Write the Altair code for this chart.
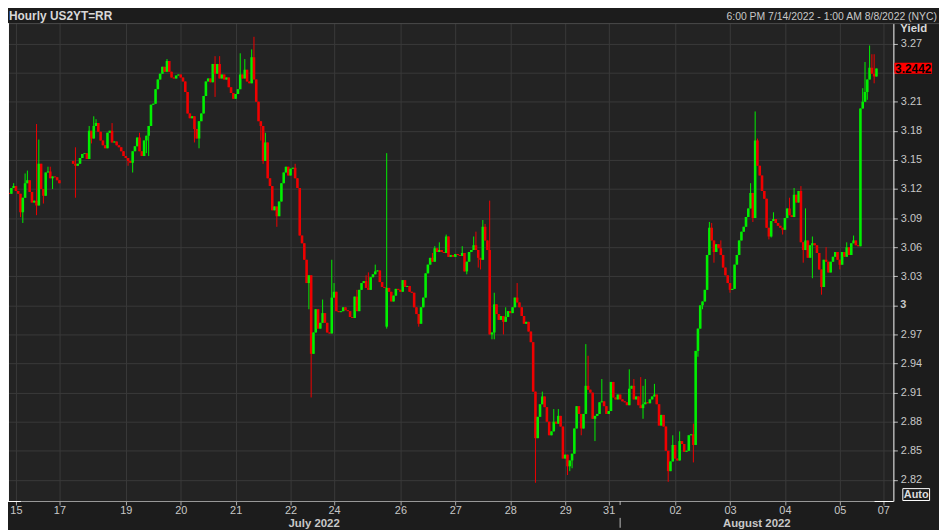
import altair as alt
import pandas as pd

# ---------------- data (hourly US 2Y yield candles, index = trading hour) ----------------
close = [
    3.127, 3.133, 3.116, 3.115, 3.121, 3.123, 3.118, 3.115, 3.096, 3.111,
    3.126, 3.129, 3.117, 3.106, 3.108, 3.103, 3.146, 3.120, 3.113, 3.137,
    3.138, 3.131, 3.133, 3.132, 3.129, 3.126, None, None, None, None,
    None, 3.146, 3.144, 3.146, 3.152, 3.156, 3.157, 3.151, 3.180, 3.172,
    3.185, 3.188, 3.179, 3.170, 3.165, 3.162, 3.178, 3.180, 3.168, 3.169,
    3.165, 3.163, 3.159, 3.154, 3.152, 3.149, 3.147, 3.159, 3.164, 3.173,
    3.159, 3.154, 3.170, 3.175, 3.185, 3.207, 3.208, 3.223, 3.233, 3.239,
    3.246, 3.241, 3.252, 3.241, 3.235, 3.234, 3.237, 3.238, 3.235, 3.231,
    3.220, 3.198, 3.193, 3.195, 3.182, 3.172, 3.190, 3.198, 3.216, 3.231,
    3.234, 3.230, 3.249, 3.239, 3.249, 3.234, 3.238, 3.233, 3.235, 3.225,
    3.219, 3.213, 3.218, 3.223, 3.238, 3.234, 3.243, 3.231, 3.229, 3.256,
    3.233, 3.210, 3.190, 3.185, 3.149, 3.168, 3.131, 3.123, 3.098, 3.102,
    3.092, 3.107, 3.126, 3.137, 3.143, 3.134, 3.141, 3.142, 3.131, 3.121,
    3.072, 3.064, 3.047, 3.023, 3.031, 2.950, 2.972, 2.996, 2.976, 2.982,
    2.992, 2.982, 2.972, 2.971, 3.008, 3.014, 2.994, 2.993, 2.994, 2.998,
    2.995, 2.994, 2.988, 2.987, 3.009, 2.994, 3.016, 3.023, 3.025, 3.018,
    3.016, 3.029, 3.032, 3.035, 3.036, 3.024, 3.019, 3.018, 3.018, 3.014,
    3.004, 3.010, 3.017, 3.016, 3.014, 3.026, 3.019, 3.020, 3.014, 3.013,
    2.998, 2.991, 2.981, 2.998, 3.008, 3.033, 3.042, 3.049, 3.045, 3.059,
    3.055, 3.057, 3.055, 3.054, 3.071, 3.050, 3.052, 3.050, 3.053, 3.052,
    3.051, 3.054, 3.035, 3.045, 3.055, 3.057, 3.062, 3.057, 3.049, 3.047,
    3.081, 3.067, 3.057, 2.970, 2.972, 3.001, 2.991, 2.985, 2.989, 2.983,
    2.988, 2.994, 2.992, 2.998, 3.008, 3.003, 2.998, 2.989, 2.981, 2.983,
    2.973, 2.962, 2.911, 2.863, 2.885, 2.898, 2.906, 2.895, 2.880, 2.866,
    2.870, 2.880, 2.878, 2.886, 2.875, 2.842, 2.846, 2.834, 2.840, 2.847,
    2.873, 2.896, 2.888, 2.873, 2.888, 2.917, 2.913, 2.910, 2.883, 2.886,
    2.888, 2.900, 2.901, 2.896, 2.888, 2.891, 2.921, 2.905, 2.903, 2.908,
    2.903, 2.901, 2.900, 2.897, 2.914, 2.917, 2.903, 2.906, 2.897, 2.894,
    2.898, 2.900, 2.899, 2.903, 2.906, 2.908, 2.898, 2.876, 2.887, 2.875,
    2.850, 2.829, 2.839, 2.856, 2.842, 2.840, 2.860, 2.857, 2.849, 2.850,
    2.866, 2.867, 2.856, 2.953, 2.976, 3.000, 3.004, 3.016, 3.052, 3.080,
    3.067, 3.055, 3.063, 3.059, 3.052, 3.039, 3.031, 3.023, 3.016, 3.017,
    3.042, 3.052, 3.067, 3.076, 3.081, 3.091, 3.100, 3.116, 3.090, 3.170,
    3.144, 3.134, 3.118, 3.110, 3.080, 3.071, 3.087, 3.089, 3.085, 3.082,
    3.080, 3.078, 3.090, 3.100, 3.093, 3.091, 3.114, 3.106, 3.118, 3.065,
    3.057, 3.067, 3.049, 3.062, 3.064, 3.062, 3.054, 3.037, 3.019, 3.047,
    3.045, 3.034, 3.045, 3.050, 3.055, 3.047, 3.042, 3.055, 3.050, 3.060,
    3.052, 3.064, 3.067, 3.062, 3.061, 3.203, 3.210, 3.220, 3.233, 3.245,
    3.239, 3.236, 3.2442,
]

# opens differing from the previous close (session starts / gaps)
open_override = {0: 3.141, 31: 3.149, 168: 2.978}

# wick extremes where they reach beyond the body
high_wick = {
    5: 3.126, 10: 3.136, 11: 3.139, 15: 3.187, 16: 3.171, 20: 3.143, 21: 3.143,
    32: 3.163, 38: 3.185, 40: 3.195, 41: 3.192, 48: 3.188, 60: 3.178, 72: 3.254,
    93: 3.257, 95: 3.257, 104: 3.260, 106: 3.254, 109: 3.264, 110: 3.277,
    115: 3.178, 128: 3.146, 140: 3.006, 144: 3.047, 145: 3.023, 155: 3.016,
    159: 3.031, 160: 3.034, 163: 3.042, 168: 3.157, 188: 3.054, 189: 3.061,
    191: 3.065, 194: 3.073, 201: 3.061, 206: 3.071, 207: 3.076, 210: 3.088,
    211: 3.084, 213: 3.108, 215: 3.013, 220: 2.998, 225: 3.023, 236: 2.911,
    241: 2.893, 243: 2.893, 255: 2.960, 256: 2.948, 262: 2.924, 274: 2.934,
    276: 2.924, 279: 2.926, 280: 2.917, 281: 2.924, 285: 2.919, 293: 2.866,
    296: 2.870, 302: 2.878, 309: 3.086, 310: 3.085, 314: 3.067, 327: 3.126,
    329: 3.200, 330: 3.172, 337: 3.096, 344: 3.111, 346: 3.121, 349: 3.123,
    351: 3.100, 354: 3.071, 360: 3.060, 369: 3.065, 372: 3.072, 376: 3.224,
    377: 3.251, 379: 3.268, 380: 3.259, 381: 3.259,
}
low_wick = {
    2: 3.110, 8: 3.091, 9: 3.085, 15: 3.093, 18: 3.105, 22: 3.120, 32: 3.111,
    39: 3.167, 55: 3.144, 57: 3.137, 63: 3.157, 64: 3.154, 84: 3.168, 86: 3.162,
    93: 3.215, 113: 3.170, 114: 3.146, 120: 3.081, 134: 2.996, 135: 2.905,
    168: 2.976, 182: 2.978, 203: 3.032, 208: 3.039, 209: 3.037, 214: 2.965,
    215: 2.965, 219: 2.970, 233: 2.817, 247: 2.825, 248: 2.829, 249: 2.832,
    253: 2.866, 259: 2.860, 280: 2.883, 291: 2.818, 302: 2.838, 304: 2.947,
    306: 2.996, 311: 3.044, 318: 3.013, 328: 3.086, 335: 3.068, 336: 3.070,
    341: 3.073, 350: 3.044, 354: 3.028, 358: 3.011, 366: 3.037, 378: 3.212,
    381: 3.229,
}

# axis ticks
day_ticks = [6, 25, 54, 78, 102, 126, 145, 174, 198, 222, 246, 265, 294, 318, 342, 366, 385]
day_labels = ["15", "17", "19", "20", "21", "22", "24", "26", "27", "28", "29", "31",
              "02", "03", "04", "05", "07"]
y_ticks = [2.82, 2.85, 2.88, 2.91, 2.94, 2.97, 3.0, 3.03, 3.06, 3.09, 3.12, 3.15,
           3.18, 3.21, 3.24, 3.27]
bold_tick = [3.0]
hidden_tick = 3.24  # sits under the last-price tag
month_names = ["July 2022", "August 2022"]
month_start = 270  # first hour of August
last_price = "3.2442"

title_text = "Hourly US2YT=RR"
range_text = "6:00 PM 7/14/2022 - 1:00 AM 8/8/2022 (NYC)"
axis_title = "Yield"
auto_text = "Auto"

# ---------------- styling ----------------
UP = "#00f000"
DOWN = "#f00000"
BG = "#1c1c1c"
PLOT_BG = "#232323"
GRID = "#3a3a3a"
LBL = "#c8c8c8"
FONT = "Liberation Sans"

X_DOMAIN = [2.53, 389.4]
Y_DOMAIN = [2.7982, 3.2911]
W, H = 893, 482

# ---------------- build candle table ----------------
rows = []
prev = None
for i, c in enumerate(close):
    if c is None:
        continue
    o = open_override.get(i, prev if prev is not None else c)
    prev = c
    top, bot = max(o, c), min(o, c)
    if top - bot < 0.0009:
        mid = (top + bot) / 2
        top, bot = mid + 0.00045, mid - 0.00045
    h = max(high_wick.get(i, top), top)
    l = min(low_wick.get(i, bot), bot)
    rows.append({"i": i, "high": h, "low": l, "b0": bot, "b1": top,
                 "dir": "up" if c >= o else "down"})
df = pd.DataFrame(rows)

xs = alt.Scale(domain=X_DOMAIN, nice=False, zero=False)
ys = alt.Scale(domain=Y_DOMAIN, nice=False, zero=False)
color = alt.Color("dir:N", scale=alt.Scale(domain=["up", "down"], range=[UP, DOWN]), legend=None)

labels_js = "[" + ",".join("'%s'" % s for s in day_labels) + "]"
ticks_js = "[" + ",".join(str(t) for t in day_ticks) + "]"

x_axis = alt.Axis(
    values=day_ticks, labelExpr=f"{labels_js}[indexof({ticks_js}, datum.value)]",
    grid=True, gridColor=GRID, domainColor="#9a9a9a", tickColor="#a8a8a8",
    tickSize=4, labelColor=LBL, labelFont=FONT, labelFontSize=11, labelPadding=0,
    labelOverlap=False, title=None,
)
y_axis = alt.Axis(
    orient="right", values=y_ticks,
    labelExpr=f"(datum.value == 3 || abs(datum.value - {hidden_tick}) < 0.001) ? '' : format(datum.value, '.2f')",
    grid=True, gridColor=GRID, domainColor="#ffffff", tickColor="#bdbdbd",
    tickSize=4, labelPadding=3, labelColor=LBL, labelFont=FONT, labelFontSize=11,
    labelOverlap=False, title=None,
)


def X(field):
    return alt.X(field, scale=xs, axis=x_axis)


def Y(field):
    return alt.Y(field, scale=ys, axis=y_axis)


wicks = alt.Chart(df).mark_rule(strokeWidth=1, clip=True).encode(
    x=X("i:Q"), y=Y("low:Q"), y2="high:Q", color=color,
)
bodies = alt.Chart(df).mark_rule(strokeWidth=2.6, clip=True).encode(
    x=X("i:Q"), y=Y("b0:Q"), y2="b1:Q", color=color,
)


def one(**kw):
    return pd.DataFrame({k: [v] for k, v in kw.items()})


def text(t, x, y, **kw):
    return alt.Chart(one(t=t)).mark_text(**kw).encode(
        x=alt.value(x), y=alt.value(y), text="t:N")


def rule(x, x2, y, y2, col, w=1):
    return alt.Chart(one(a=0)).mark_rule(color=col, strokeWidth=w).encode(
        x=alt.value(x), x2=alt.value(x2), y=alt.value(y), y2=alt.value(y2))


# frame pieces
top_line = rule(0, 939, 0.5, 0.5, "#4a4a4a")
left_line = rule(0.5, 0.5, 0, H, "#ffffff")
br_left = rule(0, 13, H + 0.5, H + 0.5, "#ffffff")
br_right = rule(874, W, H + 0.5, H + 0.5, "#ffffff")

# bold "3" label on the yield axis
bold_lbl = alt.Chart(pd.DataFrame({"v": bold_tick, "t": ["3"]})).mark_text(
    align="left", baseline="middle", font=FONT, fontSize=11, fontWeight="bold", color=LBL
).encode(x=alt.value(900), y=Y("v:Q"), text="t:N")

# header texts
title_mark = text(title_text, 1, -3, align="left", baseline="alphabetic", font=FONT,
                  fontSize=12, fontWeight="bold", color="#d8d8d8")
range_mark = text(range_text, 937, -3, align="right", baseline="alphabetic", font=FONT,
                  fontSize=10.5, color="#c8c8c8")
yield_mark = text(axis_title, 900, 9, align="left", baseline="alphabetic", font=FONT,
                  fontSize=11.5, fontWeight="bold", color="#d8d8d8")

# last price tag
tag_rect = alt.Chart(one(a=0)).mark_rect(fill="#ff0000").encode(
    x=alt.value(894), x2=alt.value(932), y=alt.value(40), y2=alt.value(51))
tag_text = text(last_price, 913, 46, align="center", baseline="middle", font=FONT,
                fontSize=12, fontWeight="bold", color="#000000")

# Auto box
auto_rect = alt.Chart(one(a=0)).mark_rect(filled=False, stroke="#ffffff", strokeWidth=1).encode(
    x=alt.value(902.5), x2=alt.value(929.5), y=alt.value(469.5), y2=alt.value(481.5))
auto_mark = text(auto_text, 916, 475.5, align="center", baseline="middle", font=FONT,
                 fontSize=11, fontWeight="bold", color="#dcdcdc")

# month labels centred on the visible part of each month
month_df = pd.DataFrame({
    "m": month_names,
    "pos": [(X_DOMAIN[0] + month_start) / 2, (month_start + X_DOMAIN[1]) / 2],
})
months = alt.Chart(month_df).mark_text(
    align="center", baseline="alphabetic", font=FONT, fontSize=11.5, fontWeight="bold", color=LBL
).encode(x=X("pos:Q"), y=alt.value(508), text="m:N")

sep_df = pd.DataFrame({"s": [month_start]})
sep_tick = alt.Chart(sep_df).mark_rule(color="#bdbdbd").encode(
    x=X("s:Q"), y=alt.value(H), y2=alt.value(H + 4))
sep_line = alt.Chart(sep_df).mark_rule(color="#bdbdbd").encode(
    x=X("s:Q"), y=alt.value(499), y2=alt.value(509))

chart = alt.layer(
    wicks, bodies, top_line, left_line, br_left, br_right, bold_lbl,
    title_mark, range_mark, yield_mark, tag_rect, tag_text, auto_rect, auto_mark,
    months, sep_tick, sep_line,
).properties(
    width=W, height=H,
    padding={"left": 0, "top": 13, "right": 46, "bottom": 27},
    autosize=alt.AutoSizeParams(type="none"),
    background=BG,
).configure_view(fill=PLOT_BG, stroke=None)

chart.save("out.html", embed_options={"renderer": "svg", "actions": False})
